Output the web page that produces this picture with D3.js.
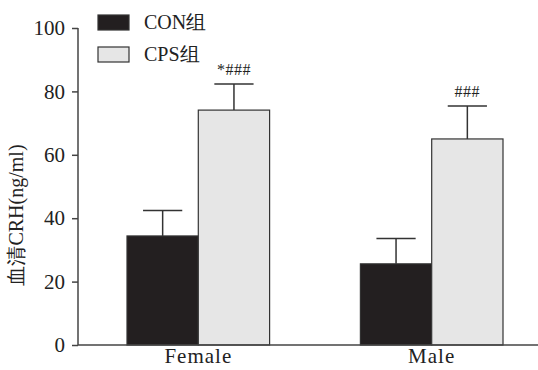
<!DOCTYPE html>
<html>
<head>
<meta charset="utf-8">
<script src="https://cdn.jsdelivr.net/npm/d3@7"></script>
<style>
  body { margin: 0; background: #fff; }
  svg text { font-family: "Liberation Serif", "Times New Roman", serif; fill: #222; }
</style>
</head>
<body>
<svg width="538" height="370"></svg>
<script>
const categories = ["Female", "Male"],
  groups = ["CON组", "CPS组"],
  conMean = [34.4, 25.6],
  conErr = [42.4, 33.6],
  cpsMean = [74.1, 65.0],
  cpsErr = [82.3, 75.4],
  marks = ["", "*###", "", "###"],
  yTicks = [0, 20, 40, 60, 80, 100],
  colors = ["#231f20", "#e6e6e6"];

const margin = { top: 28, right: 0, bottom: 25, left: 78 },
  width = 538 - margin.left - margin.right,
  height = 370 - margin.top - margin.bottom;

var svg = d3.select("svg");
var chart = svg.append("g")
  .attr("transform", "translate(" + margin.left + "," + margin.top + ")");

var x = d3.scaleBand().domain(categories).range([49, 425]).paddingInner(0.389).paddingOuter(0);
var xs = d3.scaleBand().domain(groups).range([0, x.bandwidth()]);
var y = d3.scaleLinear().domain([0, 100]).range([317, 0]);

// rows flattened: category x group
var rows = [];
categories.forEach((c, i) => {
  rows.push({ cat: c, g: groups[0], v: conMean[i], e: conErr[i], m: marks[i * 2] });
  rows.push({ cat: c, g: groups[1], v: cpsMean[i], e: cpsErr[i], m: marks[i * 2 + 1] });
});

//error bars first (behind)
var capW = xs.bandwidth() * 0.55;
rows.forEach(d => {
  const cx = x(d.cat) + xs(d.g) + xs.bandwidth() / 2;
  chart.append("line")
    .attr("x1", cx).attr("x2", cx)
    .attr("y1", y(d.v)).attr("y2", y(d.e))
    .attr("stroke", "#333").attr("stroke-width", 1.5);
  chart.append("line")
    .attr("x1", cx - capW / 2).attr("x2", cx + capW / 2)
    .attr("y1", y(d.e)).attr("y2", y(d.e))
    .attr("stroke", "#333").attr("stroke-width", 1.5);
  if (d.m)
    chart.append("text")
      .attr("x", cx).attr("y", y(d.e) - 9)
      .attr("text-anchor", "middle")
      .attr("font-size", "16px")
      .attr("letter-spacing", "0.5px")
      .text(d.m);
});

chart.selectAll("rect.bar")
  .data(rows)
  .enter()
  .append("rect")
  .attr("class", "bar")
  .attr("x", d => x(d.cat) + xs(d.g))
  .attr("y", d => y(d.v))
  .attr("width", xs.bandwidth())
  .attr("height", d => y(0) - y(d.v))
  .attr("fill", d => colors[groups.indexOf(d.g)])
  .attr("stroke", "#333")
  .attr("stroke-width", 1.2);

//axes
var yAxis = d3.axisLeft(y).tickValues(yTicks).tickSize(6).tickPadding(7);
var yg = chart.append("g").call(yAxis);
yg.select(".domain").attr("stroke", "#444").attr("stroke-width", 1.5).attr("d", "M0,0V317");
yg.selectAll(".tick line").attr("stroke", "#444").attr("stroke-width", 1.5);
yg.selectAll(".tick text").attr("font-size", "21px");

chart.append("line")
  .attr("x1", 0).attr("x2", width)
  .attr("y1", y(0)).attr("y2", y(0))
  .attr("stroke", "#444").attr("stroke-width", 1.5);

var xAxis = d3.axisBottom(x).tickSize(0).tickPadding(3);
var xg = chart.append("g").attr("transform", "translate(0," + y(0) + ")").call(xAxis);
xg.select(".domain").remove();
xg.selectAll(".tick text").attr("font-size", "21px").attr("letter-spacing", "1px");

chart.append("text")
  .attr("transform", "rotate(-90)")
  .attr("x", -187)
  .attr("y", -55)
  .attr("text-anchor", "middle")
  .attr("font-size", "20px")
  .text("血清CRH(ng/ml)");

//legend
groups.forEach((g, i) => {
  svg.append("rect")
    .attr("x", 98).attr("y", 15 + i * 32)
    .attr("width", 31).attr("height", 15)
    .attr("fill", colors[i])
    .attr("stroke", "#333").attr("stroke-width", 1.2);
  svg.append("text")
    .attr("x", 144).attr("y", 29 + i * 32)
    .attr("font-size", "20px")
    .text(g);
});
</script>
</body>
</html>
